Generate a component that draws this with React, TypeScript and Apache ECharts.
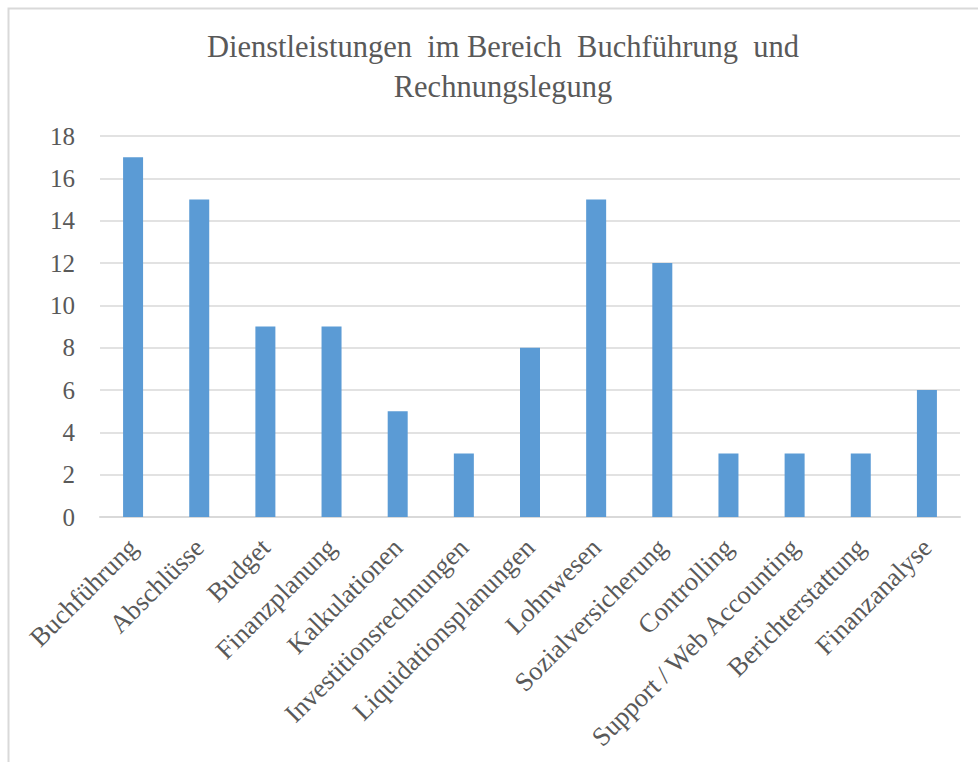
import React, { useEffect, useRef } from "react";
import * as echarts from "echarts";

const categories = [
  "Buchführung",
  "Abschlüsse",
  "Budget",
  "Finanzplanung",
  "Kalkulationen",
  "Investitionsrechnungen",
  "Liquidationsplanungen",
  "Lohnwesen",
  "Sozialversicherung",
  "Controlling",
  "Support / Web Accounting",
  "Berichterstattung",
  "Finanzanalyse",
];
const values = [17, 15, 9, 9, 5, 3, 8, 15, 12, 3, 3, 3, 6];
const titleText = "Dienstleistungen  im Bereich  Buchführung  und\nRechnungslegung";

const FONT = "Liberation Serif";

export default function App() {
  const ref = useRef<HTMLDivElement>(null);
  useEffect(() => {
    if (!ref.current) return;
    const chart = echarts.init(ref.current, undefined, { renderer: "svg" });
    chart.setOption({
      animation: false,
      backgroundColor: "#ffffff",
      textStyle: { fontFamily: FONT },
      title: {
        text: titleText,
        left: 498,
        top: 22,
        textAlign: "center",
        textStyle: {
          fontFamily: FONT,
          fontSize: 30.5,
          fontWeight: "normal",
          color: "#595959",
          lineHeight: 40,
        },
      },
      graphic: [
        {
          type: "rect",
          shape: { x: 8.5, y: 8.5, width: 1100, height: 1100 },
          style: { fill: "none", stroke: "#d9d9d9", lineWidth: 2 },
          silent: true,
        },
      ],
      grid: { left: 100, right: 18, top: 136, bottom: 245, containLabel: false },
      xAxis: {
        type: "category",
        data: categories,
        axisLine: { lineStyle: { color: "#d9d9d9", width: 2 } },
        axisTick: { show: false },
        axisLabel: {
          rotate: 45,
          interval: 0,
          fontFamily: FONT,
          fontSize: 26.5,
          color: "#595959",
          margin: 26,
        },
      },
      yAxis: {
        type: "value",
        min: 0,
        max: 18,
        interval: 2,
        axisLine: { show: false },
        axisTick: { show: false },
        splitLine: { lineStyle: { color: "#d9d9d9", width: 1.5 } },
        axisLabel: {
          fontFamily: FONT,
          fontSize: 25,
          color: "#595959",
          margin: 25,
        },
      },
      series: [
        {
          type: "bar",
          data: values,
          barWidth: 20,
          itemStyle: { color: "#5b9bd5" },
        },
      ],
    });
    return () => chart.dispose();
  }, []);
  return (
    <div
      ref={ref}
      style={{ position: "fixed", left: 0, top: 0, width: 978, height: 762 }}
    />
  );
}
